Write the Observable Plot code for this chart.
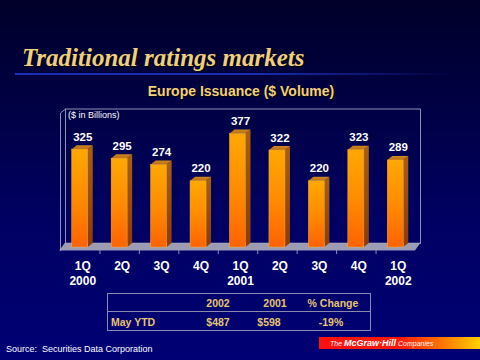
<!DOCTYPE html>
<html><head><meta charset="utf-8">
<script src="https://cdn.jsdelivr.net/npm/d3@7"></script>
<script src="https://cdn.jsdelivr.net/npm/@observablehq/plot@0.6"></script>
<style>
html,body{margin:0;padding:0;}
body{width:480px;height:360px;overflow:hidden;position:relative;
  background:linear-gradient(to bottom,#00002a 0%,#000044 30%,#000062 60%,#000074 100%);
  font-family:"Liberation Sans",Arial,sans-serif;}
#chart{position:absolute;left:0;top:0;width:480px;height:360px;}
.abs{position:absolute;white-space:nowrap;line-height:1;}
#title{left:22px;top:45px;font-family:"Liberation Serif","Times New Roman",serif;font-weight:bold;font-style:italic;font-size:25px;color:#efcf80;text-shadow:1px 1px 1px #000;}
#rule{left:15px;top:73px;width:440px;height:2px;background:linear-gradient(to right,#1a2cb8 0%,#1a2cb0 55%,rgba(26,44,176,0) 100%);}
#subtitle{left:241px;top:84px;transform:translateX(-50%);font-weight:bold;font-size:14px;color:#f2d07c;text-shadow:1px 1px 1px #000;}
#unit{left:68px;top:110.5px;font-size:9px;color:#fff;}
#tbox{left:107px;top:293px;width:262px;height:36px;border:1px solid #8a8aac;}
#tline{left:107px;top:311px;width:264px;height:1px;background:#8a8aac;}
.tc{font-weight:bold;font-size:10.5px;color:#e6c472;transform:translateX(-50%);}
#source{left:6px;top:344.5px;font-size:9px;color:#fff;}
#logo{left:319px;top:337px;width:161px;height:12px;background:linear-gradient(to right,#ff1010 0%,#ff1a0a 50%,#ff7a00 78%,#ffd000 100%);}
#logotext{left:330px;top:339px;font-size:7px;color:#fff;font-style:italic;}
#logotext b{font-size:9px;}
</style></head><body>
<div id="chart"></div>
<div id="rule" class="abs"></div>
<div id="title" class="abs">Traditional ratings markets</div>
<div id="subtitle" class="abs">Europe Issuance ($ Volume)</div>
<div id="unit" class="abs"></div>
<div id="tbox" class="abs"></div>
<div id="tline" class="abs"></div>
<div id="table"></div>
<div id="source" class="abs">Source:&nbsp; Securities Data Corporation</div>
<div id="logo" class="abs"></div>
<div id="logotext" class="abs">The <b>McGraw·Hill</b> Companies</div>
<script>
// ---- data ----
const quarters = ["1Q","2Q","3Q","4Q","1Q","2Q","3Q","4Q","1Q"];
const years = ["2000","","","","2001","","","","2002"];
const values = [325,295,274,220,377,322,220,323,289];
const unitLabel = "($ in Billions)";
const tableHeaders = ["2002","2001","% Change"];
const tableRowLabel = "May YTD";
const tableValues = ["$487","$598","-19%"];

document.getElementById("unit").textContent = unitLabel;

// ---- table ----
const tbl = document.getElementById("table");
const headerX = [218,275,333], valueX = [218,269,331];
tableHeaders.forEach((t,k)=>{
  const d=document.createElement("div");d.className="abs tc";d.textContent=t;
  d.style.left=headerX[k]+"px";d.style.top="297.5px";tbl.appendChild(d);
});
{
  const d=document.createElement("div");d.className="abs tc";d.textContent=tableRowLabel;
  d.style.left="111px";d.style.top="316.5px";d.style.transform="none";tbl.appendChild(d);
}
tableValues.forEach((t,k)=>{
  const d=document.createElement("div");d.className="abs tc";d.textContent=t;
  d.style.left=valueX[k]+"px";d.style.top="316.5px";tbl.appendChild(d);
});

// ---- chart ----
const W=480,H=360, mL=60, mR=65, mT=108.5, mB=113, yMax=460;
const xpx=(W-mL-mR)/9, ypx=(H-mT-mB)/yMax;
const dX=5/xpx, dY=4/ypx, half=8/xpx, drop=3/ypx, tickLen=4/ypx;
const n=values.length;
const bars=values.map((v,i)=>({i,v,q:quarters[i],yr:years[i]}));
const sideFaces=bars.flatMap(d=>[
  {id:d.i,x1:d.i+half,x2:d.i+half,y1:0,y2:d.v},
  {id:d.i,x1:d.i+half+dX,x2:d.i+half+dX,y1:dY,y2:d.v+dY}]);
const topFaces=bars.flatMap(d=>[
  {id:d.i,x1:d.i-half,x2:d.i+half,y1:d.v,y2:d.v},
  {id:d.i,x1:d.i-half+dX,x2:d.i+half+dX,y1:d.v+dY,y2:d.v+dY}]);
const lo=-0.5, hi=n-0.5;
const floor=[{id:0,x1:lo,x2:hi,y1:-drop,y2:-drop},{id:0,x1:lo+dX,x2:hi+dX,y1:dY,y2:dY}];
const backWall=[{x:lo+dX,y:dY},{x:lo+dX,y:yMax},{x:hi+dX,y:yMax},{x:hi+dX,y:dY}];
const leftWall=[{x:lo,y:-drop},{x:lo,y:yMax-dY},{x:lo+dX,y:yMax}];
const ticks=d3.range(0,n-1).map(i=>i+0.5);
const frameColor="#9090b4";

const svg=Plot.plot({
  width:W,height:H,marginLeft:mL,marginRight:mR,marginTop:mT,marginBottom:mB,
  x:{domain:[lo,hi],axis:null},
  y:{domain:[0,yMax],axis:null},
  style:{background:"transparent",fontFamily:"Liberation Sans, Arial, sans-serif",overflow:"visible"},
  marks:[
    Plot.line(backWall,{x:"x",y:"y",stroke:frameColor,strokeWidth:1}),
    Plot.line(leftWall,{x:"x",y:"y",stroke:frameColor,strokeWidth:1}),
    Plot.area(floor,{x1:"x1",x2:"x2",y1:"y1",y2:"y2",z:"id",fill:"#9c9cb4",stroke:"#b4b4c8",strokeWidth:0.5}),
    Plot.ruleX(ticks,{x:d=>d,y1:-drop,y2:-drop-tickLen,stroke:frameColor}),
    Plot.area(sideFaces,{x1:"x1",x2:"x2",y1:"y1",y2:"y2",z:"id",fill:"url(#gSide)"}),
    Plot.area(topFaces,{x1:"x1",x2:"x2",y1:"y1",y2:"y2",z:"id",fill:"url(#gTop)"}),
    Plot.rect(bars,{x1:d=>d.i-half,x2:d=>d.i+half,y1:()=>0,y2:"v",fill:"url(#gFront)",stroke:"#ffb040",strokeWidth:0.5}),
    Plot.text(bars,{x:d=>d.i+dX/2,y:d=>d.v+dY,text:d=>String(d.v),lineAnchor:"bottom",dy:-5,fill:"white",fontWeight:"bold",fontSize:11.5}),
    Plot.text(bars,{x:d=>d.i+dX/2,y:-drop,text:d=>d.yr?d.q+"\n"+d.yr:d.q,lineAnchor:"top",dy:8,lineHeight:1.3,fill:"white",fontWeight:"bold",fontSize:12})
  ]
});
const defs=d3.select(svg).insert("defs",":first-child");
function grad(id,stops,x2=0,y2=1){
  const g=defs.append("linearGradient").attr("id",id).attr("x1",0).attr("y1",0).attr("x2",x2).attr("y2",y2);
  stops.forEach(([o,c])=>g.append("stop").attr("offset",o).attr("stop-color",c));
}
grad("gFront",[[0,"#ffa800"],[0.5,"#ff8c00"],[1,"#ff6200"]]);
grad("gSide",[[0,"#a86010"],[1,"#8c3c00"]]);
grad("gTop",[[0,"#d08a20"],[1,"#b86c10"]]);
document.getElementById("chart").appendChild(svg);
</script>
</body></html>
